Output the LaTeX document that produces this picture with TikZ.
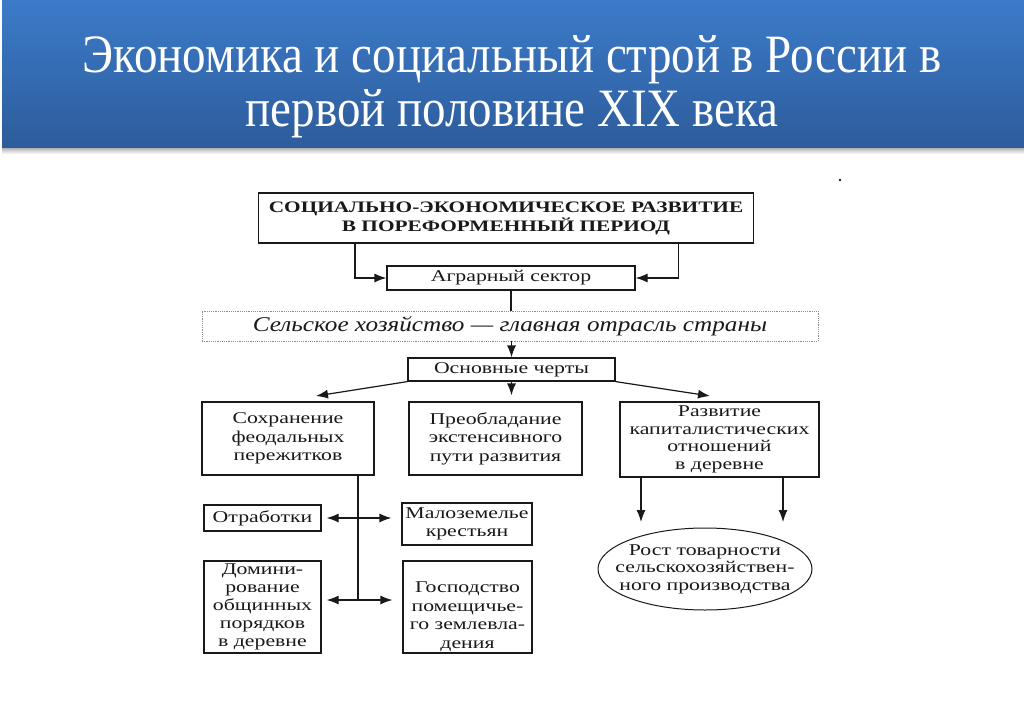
\documentclass[tikz,border=0pt]{standalone}
\usepackage{fontspec}
\setmainfont{Liberation Serif}
\newfontfamily\titlefont[FakeStretch=0.87]{Liberation Serif}
\newfontfamily\dfont[FakeStretch=1.32]{Liberation Serif}
\newfontfamily\hfont[FakeStretch=1.33]{Liberation Serif}
\newfontfamily\ifont[FakeStretch=1.2]{Liberation Serif}
\usetikzlibrary{arrows.meta,shapes.geometric}
\definecolor{bannerTop}{RGB}{60,123,201}
\definecolor{bannerBot}{RGB}{45,92,155}
\definecolor{ink}{RGB}{25,25,25}
\begin{document}
\begin{tikzpicture}[x=1pt,y=-1pt,
  box/.style={draw=ink, line width=1.2pt, inner sep=0pt, align=center, text=ink,
    font=\dfont\fontsize{16.5}{18.5}\selectfont},
  conn/.style={draw=ink, line width=1.2pt},
  arr/.style={conn, -{Latex[length=12pt,width=9pt]}},
  dblarr/.style={conn, {Latex[length=12pt,width=9pt]}-{Latex[length=12pt,width=9pt]}},
  ttl/.style={text=white, font=\titlefont\fontsize{54}{60}\selectfont, anchor=base}]
\useasboundingbox (0,0) rectangle (1024,709);
\fill[white] (0,0) rectangle (1024,709);
% banner
\shade[top color=bannerTop, bottom color=bannerBot] (2,0) rectangle (1024,148);
\shade[top color=black!30, bottom color=white] (2,148) rectangle (1024,154);
\node[ttl] (t1) at (512,72) {Экономика и социальный строй в России в};
\node[ttl] (t2) at (512,126) {первой половине XIX века};
\fill[ink] (840,180) circle (1.3pt);
% boxes
\node[box, minimum width=495pt, minimum height=50pt,
  font=\hfont\bfseries\fontsize{16}{19}\selectfont] (top) at (506,218)
  {СОЦИАЛЬНО-ЭКОНОМИЧЕСКОЕ РАЗВИТИЕ\\В ПОРЕФОРМЕННЫЙ ПЕРИОД};
\node[box, minimum width=248pt, minimum height=24pt] (agr) at (511,278) {Аграрный сектор};
\node[box, draw=black!45, densely dotted, line width=0.9pt, minimum width=616pt, minimum height=30pt,
  font=\ifont\itshape\fontsize{21}{22}\selectfont] (sh) at (510,326)
  {Сельское хозяйство — главная отрасль страны};
\node[box, minimum width=207pt, minimum height=23pt] (osn) at (511.5,369.5) {Основные черты};
\node[box, minimum width=172pt, minimum height=73pt] (b1) at (288,438.5)
  {Сохранение\\феодальных\\пережитков};
\node[box, minimum width=173pt, minimum height=73pt] (b2) at (495.5,438.5)
  {Преобладание\\экстенсивного\\пути развития};
\node[box, minimum width=199pt, minimum height=75pt,
  font=\dfont\fontsize{16.5}{17.5}\selectfont] (b3) at (719.5,439.5)
  {Развитие\\капиталистических\\отношений\\в деревне};
\node[box, minimum width=117pt, minimum height=26pt] (otr) at (262.5,518) {Отработки};
\node[box, minimum width=130pt, minimum height=42pt] (mal) at (467,524) {Малоземелье\\крестьян};
\node[box, minimum width=117pt, minimum height=92pt,
  font=\dfont\fontsize{16.5}{18}\selectfont] (dom) at (262.5,607)
  {Домини-\\рование\\общинных\\порядков\\в деревне};
\node[box, minimum width=129pt, minimum height=92pt] (gos) at (467.5,607)
  {\rule{0pt}{30pt}Господство\\помещичье-\\го землевла-\\дения};
\node[draw=ink, ellipse, line width=1pt, minimum width=214pt, minimum height=82pt] (ell) at (705,569) {};
\node[align=center, text=ink, inner sep=0pt, font=\dfont\fontsize{16.5}{17.5}\selectfont] (elltxt) at (ell.center)
  {Рост товарности\\сельскохозяйствен-\\ного производства};
% connectors
\draw[arr] ([xshift=97pt]top.south west) |- (agr.west);
\draw[arr] ([xshift=-76pt]top.south east) |- (agr.east);
\draw[conn] (agr.south) -- (agr.south |- sh.north);
\draw[arr] (sh.south -| osn.north) -- (osn.north);
\coordinate (a1) at (316,396);
\coordinate (a3) at (710,396);
\draw[arr] (osn.south west) -- (a1);
\draw[arr] (osn.south) -- ([yshift=6pt]osn.south |- b2.north);
\draw[arr] (osn.south east) -- (a3);
\coordinate (vtop) at ([xshift=70pt]b1.south);
\coordinate (vbot) at (vtop |- 0,600);
\draw[conn] (vtop) -- (vbot);
\draw[dblarr, shorten <=5pt, shorten >=10pt] (otr.east) -- (otr.east -| mal.west);
\draw[dblarr, shorten <=5pt, shorten >=10pt] (dom.east |- vbot) -- (gos.west |- vbot);
\coordinate (e1) at (641,522);
\coordinate (e2) at (783,522);
\draw[arr] (b3.south -| e1) -- (e1);
\draw[arr] (b3.south -| e2) -- (e2);
\end{tikzpicture}
\end{document}
